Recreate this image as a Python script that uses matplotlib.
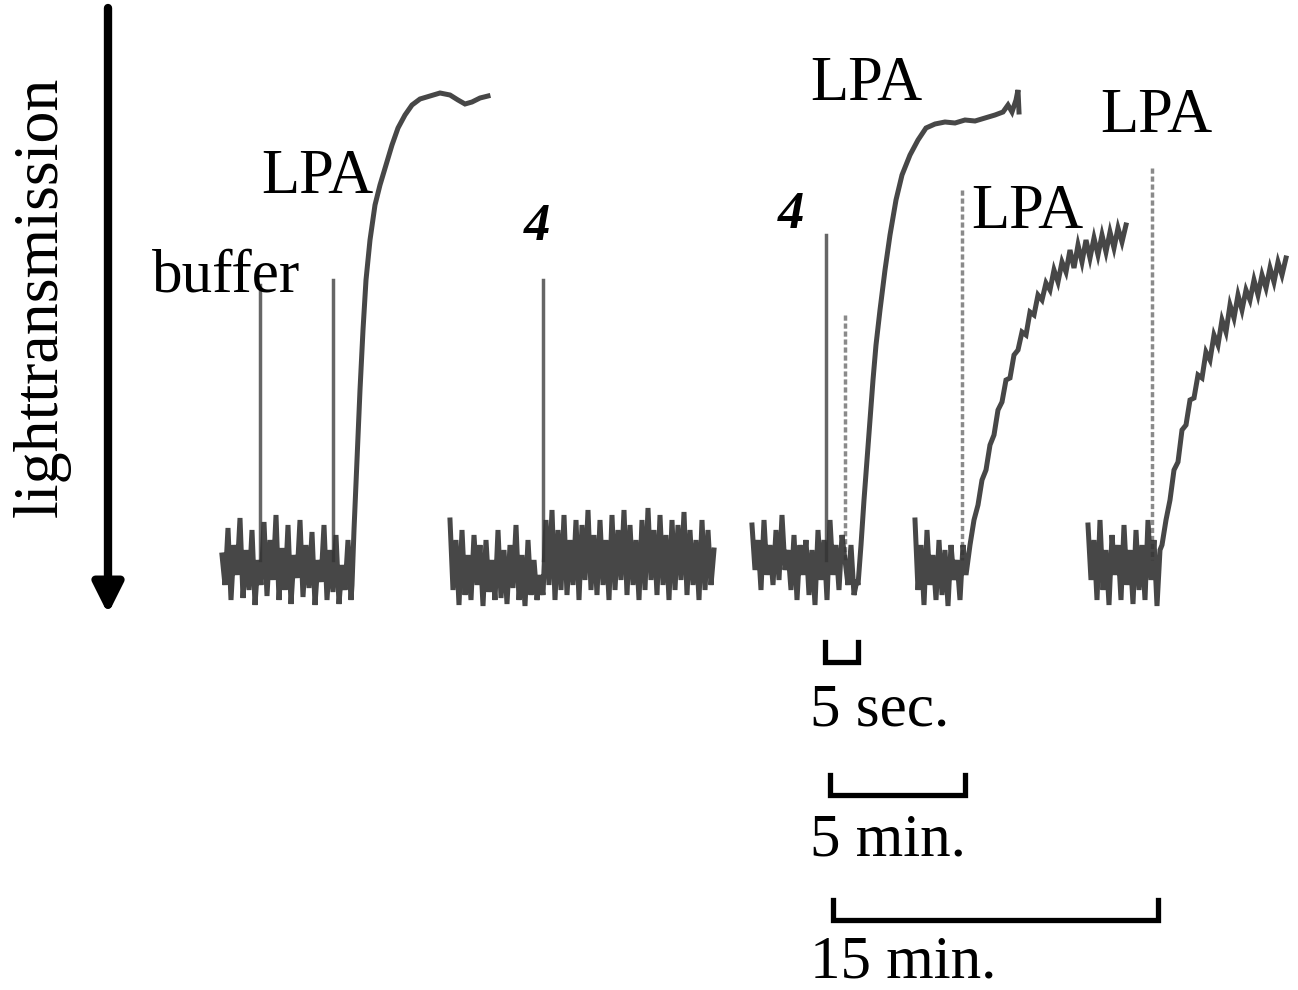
import matplotlib.pyplot as plt
import numpy as np

# baseline readings (px), sampled every 3 px, then the aggregation curves
a_noise = [555, 585, 528, 600, 545, 575, 518, 598, 550, 590, 530, 605, 560, 585, 522,
           596, 540, 580, 515, 600, 548, 590, 525, 604, 555, 578, 520, 597, 545, 588,
           532, 605, 560, 582, 525, 600, 550, 592, 535, 604, 565, 590, 540, 600]
a_rise_x = [352, 354, 357, 360, 363, 366, 370, 375, 380, 386, 392, 398, 405, 412, 420,
            430, 440, 450, 458, 465, 472, 480, 488]
a_rise_y = [585, 530, 460, 390, 330, 280, 240, 205, 185, 165, 145, 128, 115, 105, 99,
            96, 93, 95, 100, 104, 102, 98, 96]

b_noise = [520, 590, 540, 605, 530, 595, 555, 600, 535, 585, 545, 606, 540, 592, 560,
           600, 530, 598, 550, 604, 545, 588, 525, 600, 555, 606, 540, 595, 560, 600,
           575, 595, 520, 585, 510, 600, 530, 590, 515, 595, 540, 585, 520, 600, 525,
           580, 510, 590, 535, 595, 520, 585, 540, 600, 515, 590, 530, 580, 510, 595,
           525, 585, 540, 600, 520, 590, 508, 580, 530, 595, 515, 585, 535, 600, 520,
           590, 525, 580, 512, 595, 530, 585, 540, 600, 520, 590, 530, 585, 550]

c_noise = [525, 570, 540, 590, 520, 575, 545, 585, 530, 580, 515, 570, 550, 590, 535,
           600, 545, 575, 540, 595, 550, 605, 530, 580, 540, 600, 520, 575, 545, 590,
           535, 560, 585, 545, 595, 580]
c_rise_x = [858, 861, 864, 867, 870, 873, 876, 880, 885, 890, 896, 902, 910, 918, 926,
            935, 945, 955, 965, 975, 985, 995, 1003, 1008, 1012, 1016, 1018, 1019]
c_rise_y = [585, 545, 500, 460, 420, 380, 345, 310, 270, 235, 200, 175, 155, 140, 128,
            124, 122, 123, 120, 121, 118, 115, 112, 105, 112, 100, 90, 112]

d_noise = [520, 590, 545, 605, 530, 585, 555, 600, 540, 595, 550, 606, 545, 580, 560,
           600, 545, 575]
d_rise_x = [970, 974, 978, 982, 986, 990, 994, 998, 1002, 1006, 1010, 1014, 1018, 1022,
            1026, 1030, 1034, 1038, 1042, 1046, 1050, 1054, 1058, 1062, 1066, 1070, 1074,
            1078, 1082, 1086, 1090, 1094, 1098, 1102, 1106, 1110, 1114, 1118, 1122, 1126]
d_rise_y = [545, 520, 505, 480, 470, 445, 435, 410, 402, 380, 378, 355, 350, 332, 335,
            312, 315, 295, 300, 283, 290, 270, 282, 262, 272, 250, 268, 245, 262, 240,
            258, 238, 255, 235, 252, 232, 248, 228, 242, 225]

e_noise = [525, 580, 540, 600, 520, 590, 550, 605, 535, 575, 545, 600, 525, 585, 550,
           604, 530, 590, 545, 600, 520, 580, 540, 606, 550]
e_rise_x = [1162, 1166, 1170, 1174, 1178, 1182, 1186, 1190, 1194, 1198, 1202, 1206, 1210,
            1214, 1218, 1222, 1226, 1230, 1234, 1238, 1242, 1246, 1250, 1254, 1258, 1262,
            1266, 1270, 1274, 1278, 1282, 1286]
e_rise_y = [545, 520, 500, 470, 462, 430, 425, 400, 398, 375, 378, 352, 360, 335, 345,
            320, 332, 305, 318, 295, 310, 290, 300, 280, 295, 275, 288, 268, 282, 262,
            275, 258]

# additions (injection artefacts)
spike_x = [260, 333, 543, 826, 845, 962, 1152]
spike_top = [285, 280, 280, 235, 315, 190, 168]
spike_dotted = [False, False, False, False, True, True, True]

traces = [(222, a_noise, a_rise_x, a_rise_y),
          (450, b_noise, [], []),
          (752, c_noise, c_rise_x, c_rise_y),
          (915, d_noise, d_rise_x, d_rise_y),
          (1088, e_noise, e_rise_x, e_rise_y)]

labels = ['buffer', 'LPA', '4', '4', 'LPA', 'LPA', 'LPA']
scale_labels = ['5 sec.', '5 min.', '15 min.']
scale_len = [33, 135, 325]

fig = plt.figure(figsize=(12.98, 9.9), dpi=100)
ax = fig.add_axes([0, 0, 1, 1])
ax.set_xlim(0, 1298)
ax.set_ylim(990, 0)
ax.axis('off')

# spikes first so the traces sit on top
for x, top, dotted in zip(spike_x, spike_top, spike_dotted):
    if dotted:
        ax.plot([x, x], [top, 560], color='#8a8a8a', lw=2.5, ls=(0, (1.5, 0.8)))
    else:
        ax.plot([x, x], [top, 560], color='#666666', lw=2.5)

for x0, noise, rx, ry in traces:
    xs = list(x0 + 3 * np.arange(len(noise))) + rx
    ys = noise + ry
    ax.plot(xs, ys, color='#333333', lw=3.6, alpha=0.9, solid_joinstyle='miter')

# labels
fnt = dict(family='Liberation Serif', color='black')
ax.text(226, 292, labels[0], fontsize=44, ha='center', va='baseline', **fnt)
ax.text(317, 193, labels[1], fontsize=45, ha='center', va='baseline', **fnt)
ax.text(537, 240, labels[2], fontsize=38, ha='center', va='baseline', weight='bold', style='italic', **fnt)
ax.text(791, 228, labels[3], fontsize=38, ha='center', va='baseline', weight='bold', style='italic', **fnt)
ax.text(866, 100, labels[4], fontsize=45, ha='center', va='baseline', **fnt)
ax.text(1027, 228, labels[5], fontsize=45, ha='center', va='baseline', **fnt)
ax.text(1156, 132, labels[6], fontsize=45, ha='center', va='baseline', **fnt)

ax.text(42, 297, 'lighttransmission', fontsize=46, rotation=90, ha='center', va='center', **fnt)
ax.annotate('', xy=(108, 614), xytext=(108, 8),
            arrowprops=dict(arrowstyle='-|>', lw=6, color='black', mutation_scale=45,
                            shrinkA=0, shrinkB=0))

# scale bars
bar_x0 = [825, 830, 833]
bar_y = [662, 795, 920]
text_y = [725, 855, 978]
for x0, y, ty, L, lab in zip(bar_x0, bar_y, text_y, scale_len, scale_labels):
    ax.plot([x0, x0, x0 + L, x0 + L], [y - 20, y, y, y - 20], color='black', lw=3.8,
            solid_joinstyle='miter')
    ax.text(810, ty, lab, fontsize=44, ha='left', va='baseline', **fnt)

fig.savefig('out.png', dpi=100)
